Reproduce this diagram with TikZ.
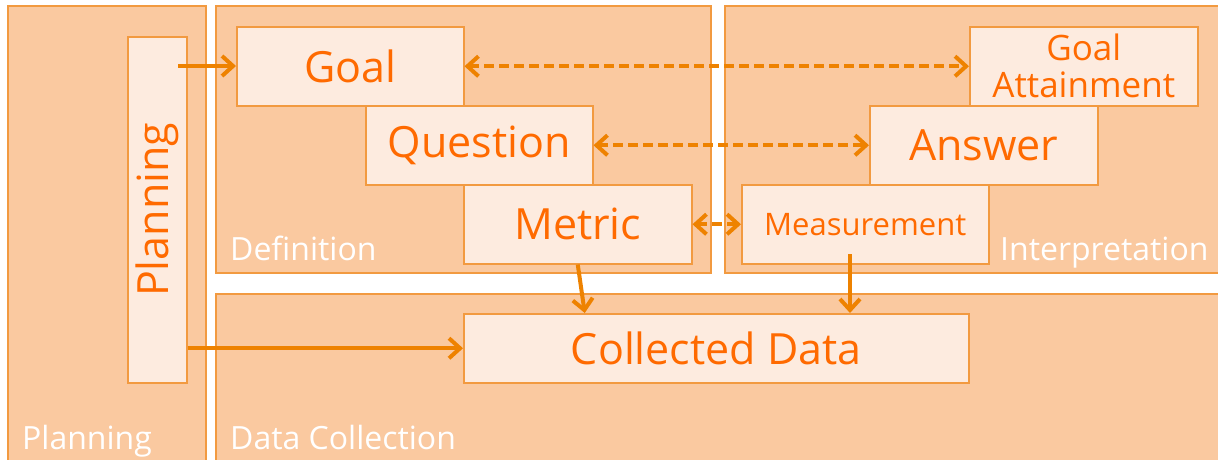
\documentclass[tikz,border=0pt]{standalone}
\usepackage{fontspec}
\setmainfont{Open Sans}
\usepackage{tikz}
\usetikzlibrary{calc,arrows.meta,positioning}
\definecolor{orangex}{HTML}{FF6A00}
\definecolor{linex}{HTML}{EE8200}
\definecolor{edgex}{HTML}{F29A40}
\definecolor{panelbg}{HTML}{FAC9A0}
\definecolor{boxbg}{HTML}{FDEBDF}
\tikzset{
  panel/.style={draw=edgex,line width=1.5pt,fill=panelbg},
  box/.style={draw=edgex,line width=1.5pt,fill=boxbg,text=orangex,align=center,inner sep=0pt,anchor=north west},
  big/.style={font=\fontsize{43}{48}\selectfont},
  lbl/.style={text=white,anchor=base west,inner sep=0pt,font=\fontsize{32}{32}\selectfont},
  ar/.style={-{Straight Barb[length=11pt,width=20pt]},line width=4pt,linex},
  dar/.style={ar,{Straight Barb[length=11pt,width=20pt]}-{Straight Barb[length=11pt,width=20pt]},dash pattern=on 10pt off 5pt}
}
\begin{document}
\begin{tikzpicture}[x=1pt,y=-1pt]
\useasboundingbox (0,0) rectangle (1218,459);
% panels
\fill[white] (0,0) rectangle (1218,459);
\draw[panel] (8,6) rectangle (206,470);
\draw[panel] (216,6) rectangle (711,273);
\draw[panel] (725,6) rectangle (1230,273);
\draw[panel] (216,294) rectangle (1230,470);
\node[lbl] (lplan) at (22,449) {Planning};
\node[lbl] (ldef) at (230,260) {Definition};
\node[lbl] (lint) at (1000,260) {Interpretation};
\node[lbl] (ldata) at (230,449) {Data Collection};
% boxes
\node[box,minimum width=59pt,minimum height=346pt] (plan) at (127,36) {};
\node[text=orangex,rotate=90,big] (plantxt) at (plan.center) {Planning};
\node[box,big,minimum width=227pt,minimum height=79pt] (goal) at (236,26) {Goal};
\node[box,big,minimum width=227pt,minimum height=79pt] (quest) at (365,105) {Question};
\node[box,big,minimum width=228pt,minimum height=79pt] (metric) at (463,184) {Metric};
\node[box,minimum width=228pt,minimum height=79pt,font=\fontsize{35}{37}\selectfont] (gatt) at (969,26) {Goal\\Attainment};
\node[box,big,minimum width=228pt,minimum height=79pt] (answer) at (869,105) {Answer};
\node[box,minimum width=247pt,minimum height=79pt,font=\fontsize{31}{34}\selectfont] (meas) at (741,184) {Measurement};
\node[box,big,minimum width=505pt,minimum height=69pt] (cdata) at (463,313) {Collected Data};
% connectors
\coordinate (pstart) at (178,66);
\coordinate (mstart) at (850,254);
\draw[ar] (pstart) -- (pstart -| goal.west);
\draw[ar] (plan.east |- cdata.west) -- (cdata.west);
\draw[dar] (goal.east) -- (goal.east -| gatt.west);
\draw[dar] (quest.east) -- (quest.east -| answer.west);
\draw[dar] (metric.east) -- (metric.east -| meas.west);
\draw[ar] (metric.south) -- ([xshift=7pt]metric.south |- cdata.north);
\draw[ar] (mstart) -- (mstart |- cdata.north);
\end{tikzpicture}
\end{document}
